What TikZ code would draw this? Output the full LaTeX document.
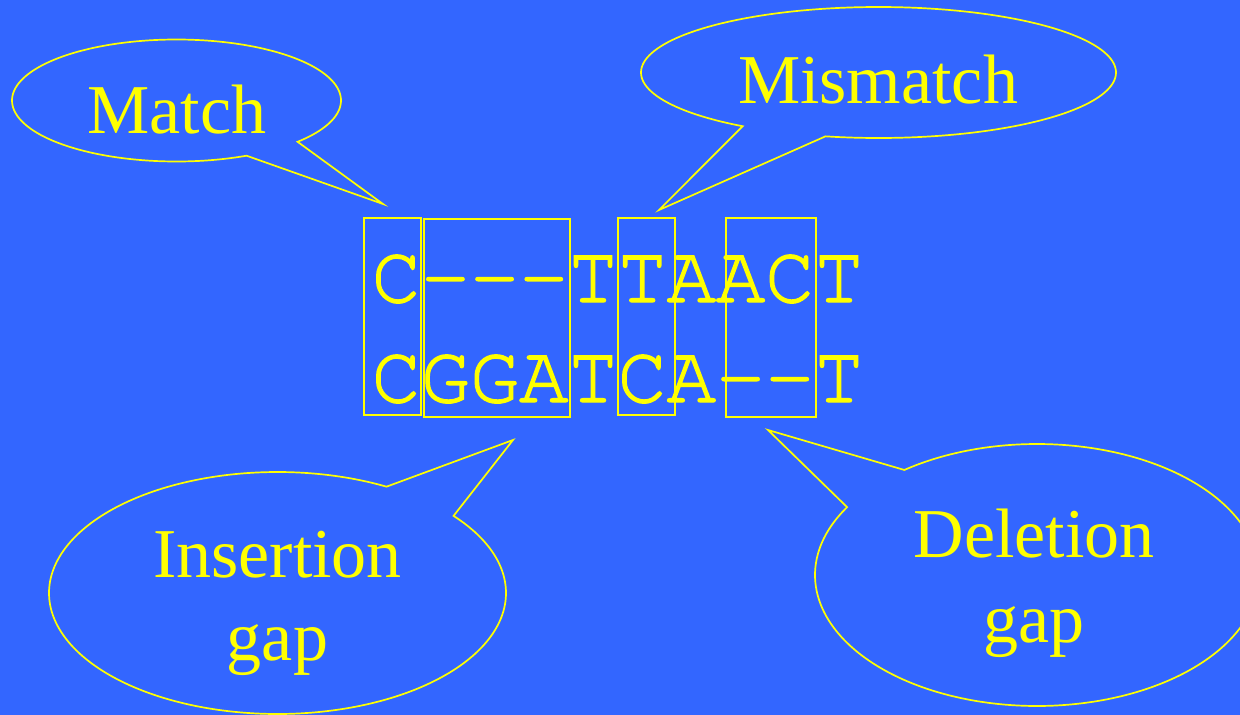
\documentclass[tikz,border=0pt]{standalone}
\usepackage{fontspec}
\newfontfamily\lblfont{Liberation Serif}
\newfontfamily\seqfont[FakeBold=1.6]{TeX Gyre Cursor}
\definecolor{bgblue}{HTML}{3366FF}
\definecolor{yel}{HTML}{FFFF00}
\tikzset{
  outline/.style={draw=yel, line width=1.7pt, line join=miter},
  lbl/.style={text=yel, font=\lblfont\fontsize{70}{80}\selectfont, inner sep=0pt, anchor=base},
  seq/.style={text=yel, font=\seqfont\fontsize{82}{90}\selectfont, inner sep=0pt, anchor=base west},
  colbox/.style={draw=yel, line width=1.6pt, inner sep=0pt, outer sep=0pt, rectangle},
}
\begin{document}
\begin{tikzpicture}[x=1pt,y=-1pt]
\fill[bgblue] (0,0) rectangle (1240,715);
\useasboundingbox (0,0) rectangle (1240,715);
\clip (0,0) rectangle (1240,715);

% alignment
\node[seq] (top) at (371.4,302) {C---TTAACT};
\node[seq] (bot) at (371.4,402) {CGGATCA--T};

% column boxes
\node[colbox, minimum width=57pt, minimum height=197pt] (bmatch) at (392.5,316.5) {};
\node[colbox, minimum width=146pt, minimum height=198pt] (bins) at (497,318) {};
\node[colbox, minimum width=57pt, minimum height=197pt] (bmis) at (646.5,316.5) {};
\node[colbox, minimum width=90pt, minimum height=199pt] (bdel) at (771,317.5) {};

% pointer tips
\coordinate (tmatch) at (383,204);
\coordinate (tmis) at (659,210);
\coordinate (tins) at (513,440);
\coordinate (tdel) at (768,430);

% Match callout
\draw[outline] plot[domain=64.8:402.6, samples=160, smooth] ({176.5+164.5*cos(\x)},{100.5+61*sin(\x)}) -- (tmatch) -- cycle;
\node[lbl] (match) at (177,133) {Match};

% Mismatch callout
\draw[outline] plot[domain=124.9:462.9, samples=160, smooth] ({878.5+237.5*cos(\x)},{72.5+65.5*sin(\x)}) -- (tmis) -- cycle;
\node[lbl] (mismatch) at (878,103) {Mismatch};

% Insertion gap callout
\draw[outline] plot[domain=-39.6:298.5, samples=160, smooth] ({277.5+228.5*cos(\x)},{593+121*sin(\x)}) -- (tins) -- cycle;
\node[lbl] (ins1) at (277.5,577) {Insertion};
\node[lbl] (ins2) at (277.5,660) {gap};

% Deletion gap callout
\draw[outline] plot[domain=233.3:571.2, samples=160, smooth] ({1037+222*cos(\x)},{575+131*sin(\x)}) -- (tdel) -- cycle;
\node[lbl] (del1) at (1034,557) {Deletion};
\node[lbl] (del2) at (1034,642) {gap};
\end{tikzpicture}
\end{document}
